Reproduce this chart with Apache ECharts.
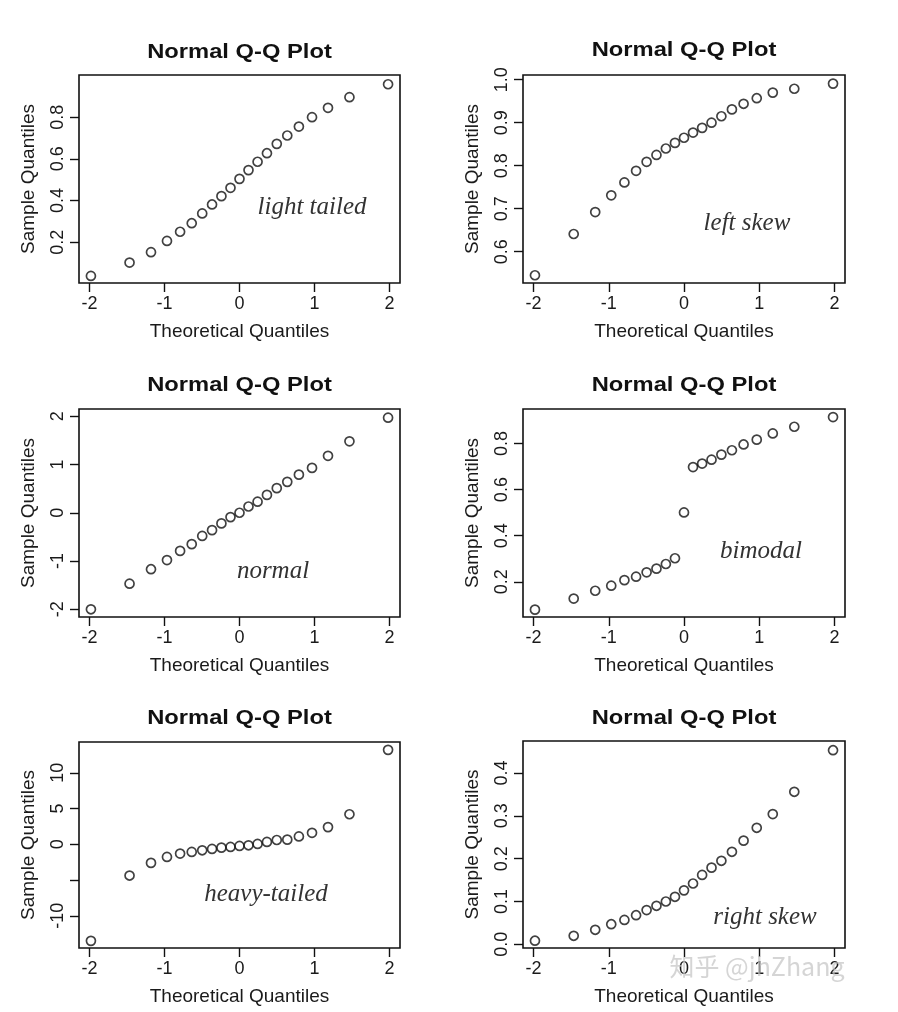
<!DOCTYPE html>
<html>
<head>
<meta charset="utf-8">
<script src="https://cdn.jsdelivr.net/npm/echarts@6/dist/echarts.min.js"></script>
<style>
html,body{margin:0;padding:0;background:#fff;}
#c{width:898px;height:1012px;}
</style>
</head>
<body>
<div id="c"></div>
<script>
// ---- data ----
const theoretical = [-1.981,-1.466,-1.180,-0.967,-0.792,-0.637,-0.497,-0.366,-0.241,-0.120,0,0.120,0.241,0.366,0.497,0.637,0.792,0.967,1.180,1.466,1.981];
const lightTailed = [0.038,0.102,0.152,0.206,0.250,0.291,0.338,0.381,0.421,0.461,0.504,0.546,0.586,0.627,0.672,0.712,0.755,0.800,0.845,0.896,0.958];
const leftSkew    = [0.545,0.641,0.692,0.731,0.761,0.788,0.809,0.825,0.840,0.853,0.865,0.877,0.888,0.900,0.915,0.931,0.944,0.957,0.970,0.979,0.991];
const normalQ     = [-2.00,-1.47,-1.17,-0.98,-0.79,-0.65,-0.48,-0.36,-0.22,-0.09,0.00,0.13,0.23,0.37,0.51,0.64,0.79,0.93,1.18,1.48,1.97];
const bimodal     = [0.079,0.127,0.161,0.183,0.207,0.222,0.241,0.257,0.277,0.302,0.501,0.698,0.713,0.730,0.752,0.771,0.796,0.817,0.844,0.873,0.915];
const heavyTailed = [-13.5,-4.37,-2.6,-1.77,-1.3,-1.07,-0.84,-0.65,-0.47,-0.37,-0.23,-0.14,0.05,0.33,0.6,0.65,1.1,1.6,2.4,4.2,13.2];
const rightSkew   = [0.0085,0.020,0.034,0.047,0.057,0.068,0.080,0.090,0.100,0.111,0.126,0.142,0.162,0.179,0.195,0.216,0.242,0.272,0.304,0.356,0.453];

const xTicks = [-2,-1,0,1,2];
const yTicksLight  = [0.2,0.4,0.6,0.8];
const yTicksLeft   = [0.6,0.7,0.8,0.9,1.0];
const yTicksNormal = [-2,-1,0,1,2];
const yTicksBimod  = [0.2,0.4,0.6,0.8];
const yTicksHeavy  = [-10,-5,0,5,10];
const yLabelsHeavy = [-10,0,5,10];
const yTicksRight  = [0.0,0.1,0.2,0.3,0.4];

const titleText = 'Normal Q-Q Plot';
const xName = 'Theoretical Quantiles';
const yName = 'Sample Quantiles';
const notes = ['light tailed','left skew','normal','bimodal','heavy-tailed','right skew'];
const watermark = '知乎 @jhZhang';

// ---- layout ----
const panels = [
  {grid:{left:79, top:75, width:321, height:208}, y:lightTailed, ymin:0.004, ymax:1.0025, ticks:yTicksLight, labels:yTicksLight, dec:1, titleY:52, note:[312,207]},
  {grid:{left:523,top:75, width:322, height:208}, y:leftSkew,    ymin:0.527, ymax:1.011, ticks:yTicksLeft, labels:yTicksLeft, dec:1, titleY:50, note:[747,223]},
  {grid:{left:79, top:409,width:321, height:208}, y:normalQ,     ymin:-2.16, ymax:2.15, ticks:yTicksNormal, labels:yTicksNormal, dec:0, titleY:385, note:[273,571]},
  {grid:{left:523,top:409,width:322, height:208}, y:bimodal,     ymin:0.047, ymax:0.950, ticks:yTicksBimod, labels:yTicksBimod, dec:1, titleY:385, note:[761,551]},
  {grid:{left:79, top:742,width:321, height:206}, y:heavyTailed, ymin:-14.5, ymax:14.3, ticks:yTicksHeavy, labels:yLabelsHeavy, dec:0, titleY:718, note:[266,894]},
  {grid:{left:523,top:741,width:322, height:207}, y:rightSkew,   ymin:-0.0085, ymax:0.4745, ticks:yTicksRight, labels:yTicksRight, dec:1, titleY:718, note:[765,917]}
];

const sans = '"Liberation Sans", Arial, sans-serif';
const ink = '#1a1a1a';
const option = {animation:false, backgroundColor:'#fff', grid:[], xAxis:[], yAxis:[], series:[], graphic:[]};

panels.forEach((p, i) => {
  option.grid.push(Object.assign({show:true, borderColor:'#111', borderWidth:1.6, backgroundColor:'transparent', containLabel:false}, p.grid));
  option.xAxis.push({
    gridIndex:i, type:'value', min:-2.14, max:2.14, position:'bottom',
    name:xName, nameLocation:'middle', nameGap:39,
    nameTextStyle:{fontFamily:sans, fontSize:19, color:ink},
    axisLine:{show:false, onZero:false},
    axisTick:{show:true, length:9, customValues:xTicks, lineStyle:{color:'#111', width:1.4}},
    axisLabel:{customValues:xTicks, margin:12, fontFamily:sans, fontSize:18, color:ink, formatter:v=>String(v)},
    splitLine:{show:false}
  });
  option.yAxis.push({
    gridIndex:i, type:'value', min:p.ymin, max:p.ymax, position:'left',
    name:yName, nameLocation:'middle', nameGap:41, nameRotate:90,
    nameTextStyle:{fontFamily:sans, fontSize:19, color:ink},
    axisLine:{show:false, onZero:false},
    axisTick:{show:true, length:9, customValues:p.ticks, lineStyle:{color:'#111', width:1.4}},
    axisLabel:{customValues:p.labels, rotate:90, margin:12, fontFamily:sans, fontSize:18, color:ink,
      formatter:v=>Number(v).toFixed(p.dec)},
    splitLine:{show:false}
  });
  option.series.push({
    type:'scatter', xAxisIndex:i, yAxisIndex:i, silent:true,
    symbol:'circle', symbolSize:9,
    itemStyle:{color:'rgba(0,0,0,0)', borderColor:'#111', borderWidth:1.7},
    data: theoretical.map((x, k) => [x, p.y[k]])
  });
  const cx = p.grid.left + p.grid.width/2;
  option.graphic.push({
    type:'text', silent:true, z:10, x:cx, y:p.titleY, scaleX:1.13,
    style:{text:titleText, x:0, y:0, font:'bold 21px "Liberation Sans", Arial, sans-serif',
      fill:'#111', textAlign:'center', align:'center', textVerticalAlign:'middle', verticalAlign:'middle'}
  });
  option.graphic.push({
    type:'text', silent:true, z:10,
    style:{text:notes[i], x:p.note[0], y:p.note[1], font:'italic 25px "Liberation Serif", "Times New Roman", serif',
      fill:'#333', textAlign:'center', align:'center', textVerticalAlign:'middle', verticalAlign:'middle'}
  });
});

option.graphic.push({
  type:'text', silent:true, z:20,
  style:{text:watermark, x:757, y:966, font:'25px "Noto Sans CJK SC", sans-serif',
    fill:'rgba(195,195,195,0.7)', textAlign:'center', align:'center', textVerticalAlign:'middle', verticalAlign:'middle'}
});

const chart = echarts.init(document.getElementById('c'));
chart.setOption(option);
</script>
</body>
</html>
